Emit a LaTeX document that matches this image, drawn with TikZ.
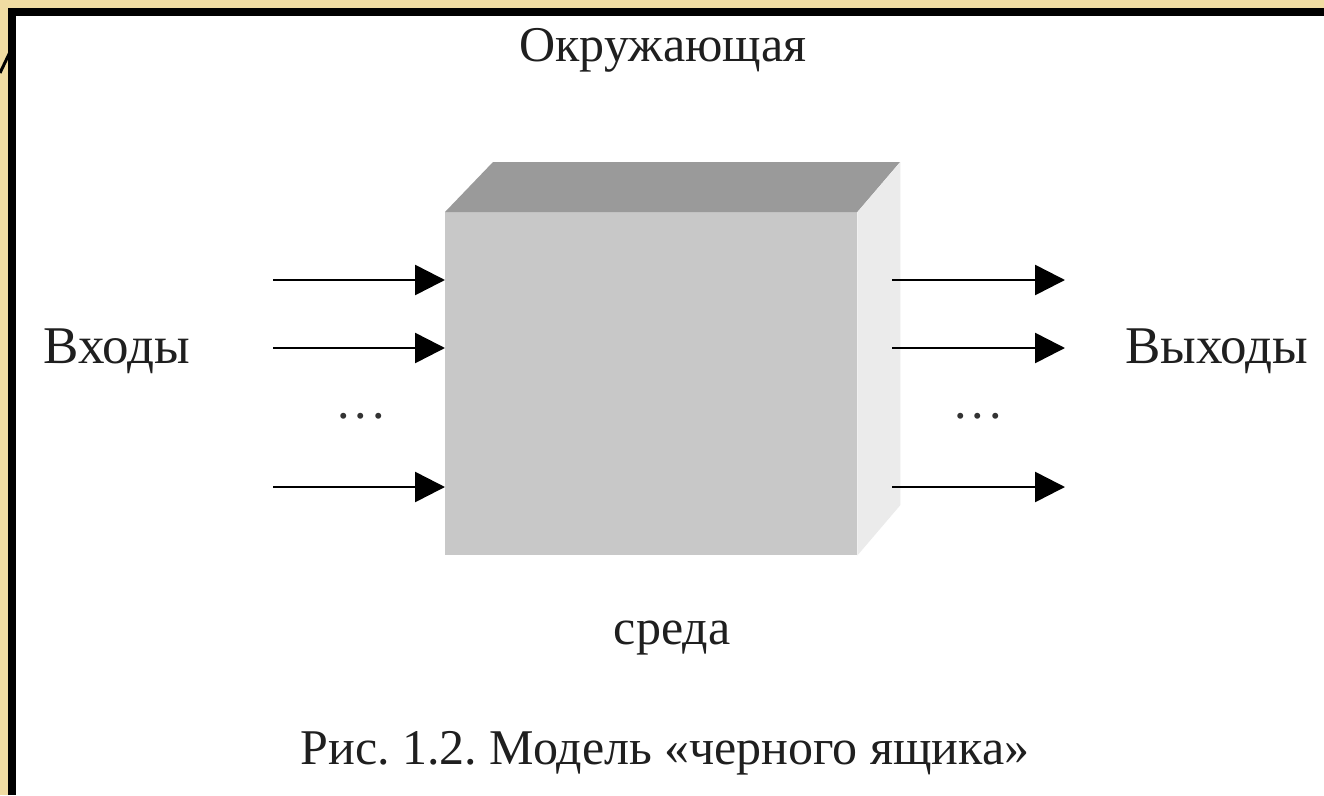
\documentclass[tikz,border=0pt]{standalone}
\usepackage{fontspec}
\setmainfont{Liberation Serif}
\usetikzlibrary{arrows.meta}
\definecolor{beige}{HTML}{F0DCA2}
\definecolor{frontc}{HTML}{C8C8C8}
\definecolor{topc}{HTML}{9A9A9A}
\definecolor{sidec}{HTML}{EBEBEB}
\frenchspacing
\begin{document}
\begin{tikzpicture}[x=1pt,y=-1pt,
  lbl/.style={inner sep=0pt,font=\fontsize{50}{58}\selectfont\frenchspacing,text=black!88},
  sidelbl/.style={lbl,font=\fontsize{53}{60}\selectfont},
  arr/.style={line width=2.6pt,-{Triangle[length=30pt,width=30pt]}},
  dotsnode/.style={inner sep=0pt,font=\fontsize{50}{58}\selectfont,text=black!80}]
\useasboundingbox (0,0) rectangle (1324,795);
\fill[beige] (0,0) rectangle (1324,795);
\fill[white] (16,16) rectangle (1324,795);
\draw[line width=8pt] (12,795) -- (12,12) -- (1324,12);
\draw[line width=3pt] (0,73) -- (10,52);
% box
\node[fill=frontc,minimum width=412pt,minimum height=343pt,inner sep=0pt,anchor=north west] (box) at (445,212) {};
\fill[topc] (box.north west) -- ++(48,-50) -- ++(407,0) -- (box.north east) -- cycle;
\fill[sidec] (box.north east) -- ++(43,-50) -- ++(0,343) -- (box.south east) -- cycle;
% labels
\node[lbl] (env1) at (663,50) {Окружающая};
\node[lbl] (env2) at (672,638) {среда};
\node[sidelbl] (inl) at (117,351) {Входы};
\node[sidelbl] (outl) at (1217,351) {Выходы};
\node[lbl] (cap) at (665,753) {Рис. 1.2. Модель «черного ящика»};
\node[dotsnode] (ldots) at (361,416) {.\hspace{5pt}.\hspace{5pt}.};
\node[dotsnode] (rdots) at (978,416) {.\hspace{5pt}.\hspace{5pt}.};
% inputs and outputs
\foreach \i/\y in {1/280,2/348,3/487}{
  \coordinate (in\i) at (273,\y);
  \coordinate (ine\i) at (445,\y);
  \draw[arr] (in\i) -- (ine\i);
  \coordinate (out\i) at (892,\y);
  \coordinate (oute\i) at (1065,\y);
  \draw[arr] (out\i) -- (oute\i);
}
\end{tikzpicture}
\end{document}
